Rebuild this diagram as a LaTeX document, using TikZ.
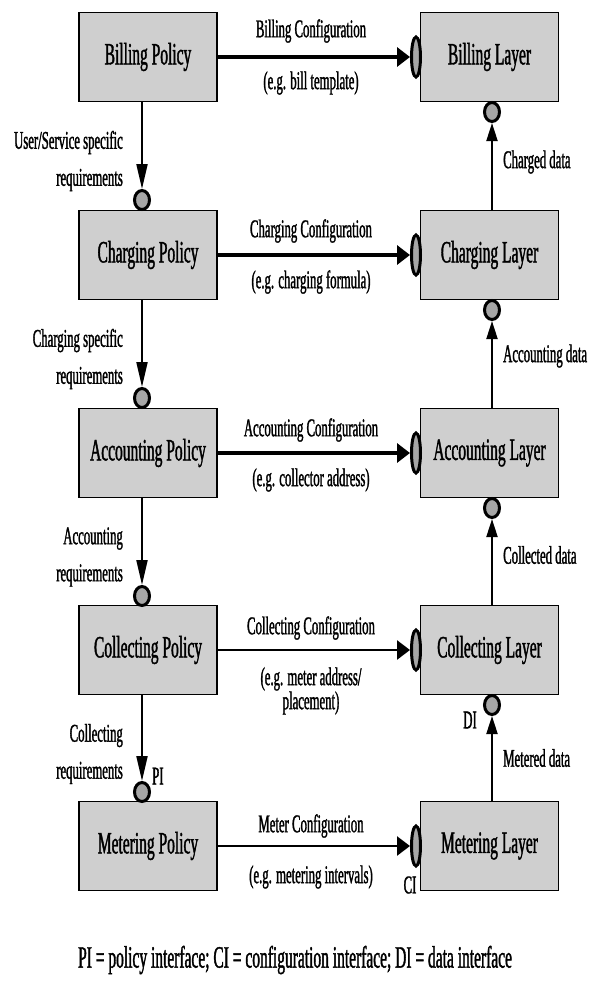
\documentclass[tikz,border=0pt]{standalone}
\usepackage{fontspec}
\setmainfont[FakeStretch=0.5,FakeBold=1.2]{Liberation Serif}
\usetikzlibrary{arrows.meta,shapes.geometric}
\tikzset{
  box/.style={draw=black, line width=1.5pt, fill=gray!38, minimum width=138pt,
    minimum height=89pt, inner sep=0pt, font=\fontsize{31}{31}\selectfont},
  iface/.style={ellipse, draw=black, line width=3pt, fill=gray!70,
    minimum width=9pt, minimum height=40pt, inner sep=0pt},
  pnode/.style={ellipse, draw=black, line width=3pt, fill=gray!70,
    minimum width=15pt, minimum height=19pt, inner sep=0pt},
  cfg/.style={line width=4pt, -{Triangle[length=13pt,width=19pt]}},
  cfgthin/.style={line width=2.6pt, -{Triangle[length=13pt,width=19pt]}},
  req/.style={line width=2pt, -{Triangle[length=25pt,width=11pt]}},
  dat/.style={line width=2pt, -{Triangle[length=18pt,width=11pt]}},
  clbl/.style={font=\fontsize{25.5}{25}\selectfont, inner sep=0pt, align=center},
  rlbl/.style={font=\fontsize{25.5}{37}\selectfont, inner sep=0pt, align=right, anchor=east},
  dlbl/.style={font=\fontsize{25.5}{25}\selectfont, inner sep=0pt, anchor=west},
}
\begin{document}
\begin{tikzpicture}[x=1pt,y=-1pt]
\useasboundingbox (0,0) rectangle (595,989);
% policy boxes
\node[box] (bp)   at (148,57)  {Billing Policy};
\node[box] (cp)   at (148,255) {Charging Policy};
\node[box] (ap)   at (148,453) {Accounting Policy};
\node[box] (colp) at (148,650) {Collecting Policy};
\node[box] (mp)   at (148,846) {Metering Policy};
% layer boxes
\node[box] (bl)   at (489.5,57)  {Billing Layer};
\node[box] (cl)   at (489.5,255) {Charging Layer};
\node[box] (al)   at (489.5,453) {Accounting Layer};
\node[box] (coll) at (489.5,650) {Collecting Layer};
\node[box] (ml)   at (489.5,846) {Metering Layer};
% configuration interfaces
\node[iface] (ci1) at (416,57)  {};
\node[iface] (ci2) at (416,255) {};
\node[iface] (ci3) at (416,453) {};
\node[iface] (ci4) at (416,650) {};
\node[iface] (ci5) at (416,846) {};
% policy interfaces
\node[pnode] (pi1) at (142,200) {};
\node[pnode] (pi2) at (142,398) {};
\node[pnode] (pi3) at (142,596) {};
\node[pnode] (pi4) at (142,792) {};
% data interfaces
\node[pnode] (di1) at (492,112) {};
\node[pnode] (di2) at (492,310) {};
\node[pnode] (di3) at (492,508) {};
\node[pnode] (di4) at (492,705) {};
% configuration arrows
\draw[cfg] (bp.east) -- (ci1.west);
\draw[cfg] (cp.east) -- (ci2.west);
\draw[cfg] (ap.east) -- (ci3.west);
\draw[cfgthin] (colp.east) -- (ci4.west);
\draw[cfgthin] (mp.east) -- (ci5.west);
% requirement arrows
\draw[req] (bp.south -| pi1) -- (pi1.north);
\draw[req] (cp.south -| pi2) -- (pi2.north);
\draw[req] (ap.south -| pi3) -- (pi3.north);
\draw[req] (colp.south -| pi4) -- (pi4.north);
% data arrows
\draw[dat] (cl.north -| di1) -- (di1.south);
\draw[dat] (al.north -| di2) -- (di2.south);
\draw[dat] (coll.north -| di3) -- (di3.south);
\draw[dat] (ml.north -| di4) -- (di4.south);
% configuration labels
\node[clbl] (t1a) at (311,31)  {Billing Configuration};
\node[clbl] (t1b) at (311,83)  {(e.g. bill template)};
\node[clbl] (t2a) at (311,231) {Charging Configuration};
\node[clbl] (t2b) at (311,282) {(e.g. charging formula)};
\node[clbl] (t3a) at (311,430) {Accounting Configuration};
\node[clbl] (t3b) at (311,480) {(e.g. collector address)};
\node[clbl] (t4a) at (311,628) {Collecting Configuration};
\node[clbl] (t4b) at (311,679) {(e.g. meter address/};
\node[clbl] (t4c) at (311,703) {placement)};
\node[clbl] (t5a) at (311,826) {Meter Configuration};
\node[clbl] (t5b) at (311,877) {(e.g. metering intervals)};
% requirement labels
\node[rlbl] (r1) at (123,161) {User/Service specific\\requirements};
\node[rlbl] (r2) at (123,359) {Charging specific\\requirements};
\node[rlbl] (r3) at (123,557) {Accounting\\requirements};
\node[rlbl] (r4) at (123,754) {Collecting\\requirements};
% data labels
\node[dlbl] (d1) at (503,162) {Charged data};
\node[dlbl] (d2) at (503,356) {Accounting data};
\node[dlbl] (d3) at (503,555) {Collected data};
\node[dlbl] (d4) at (503,758) {Metered data};
% interface tags
\node[dlbl] (pit) at (152,776) {PI};
\node[clbl] (cit) at (410,885) {CI};
\node[clbl] (dit) at (470,720) {DI};
% caption
\node[inner sep=0pt, font=\fontsize{31}{31}\selectfont] (cap) at (295,960)
  {PI = policy interface; CI = configuration interface; DI = data interface};
\end{tikzpicture}
\end{document}
